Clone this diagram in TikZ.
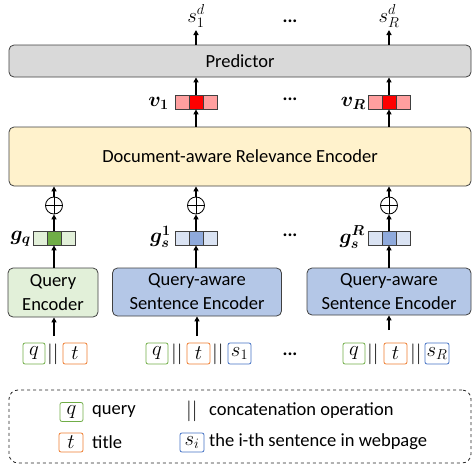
\documentclass[tikz,border=0pt]{standalone}
\usepackage{bm}
\usepackage{fontspec}
\setmainfont{Carlito}
\usetikzlibrary{arrows.meta}
\definecolor{predgray}{HTML}{D9D9D9}
\definecolor{dreyellow}{HTML}{FFF2CC}
\definecolor{qgreen}{HTML}{E2F0D9}
\definecolor{qgreenmid}{HTML}{70AD47}
\definecolor{sblue}{HTML}{B4C7E7}
\definecolor{sbluelight}{HTML}{DAE3F3}
\definecolor{sbluemid}{HTML}{8FAADC}
\definecolor{vpink}{HTML}{FF9F9F}
\definecolor{vred}{HTML}{FF0000}
\definecolor{tokgreen}{HTML}{70AD47}
\definecolor{tokorange}{HTML}{ED7D31}
\definecolor{tokblue}{HTML}{4472C4}
\definecolor{edge}{HTML}{404040}
\begin{document}
\begin{tikzpicture}[x=1pt,y=-1pt,
  font=\fontsize{18.5}{22}\selectfont,
  bigbox/.style={draw=edge, line width=0.8pt, rounded corners=5pt, inner sep=0pt},
  encbox/.style={bigbox, align=center, font=\fontsize{18.5}{24}\selectfont},
  cell/.style={draw=edge, line width=0.8pt, minimum width=14pt, minimum height=14pt, inner sep=0pt},
  arr/.style={line width=1.3pt, -{Triangle[length=5pt,width=5pt]}},
  tok/.style={draw, rounded corners=2pt, line width=0.8pt, minimum width=22pt, minimum height=21pt, inner sep=0pt, font=\fontsize{22}{24}\selectfont},
  ltok/.style={tok, minimum height=19pt},
  bars/.style={inner sep=0pt, font=\fontsize{21}{24}\selectfont},
  dots/.style={inner sep=0pt, font=\bfseries\fontsize{18.5}{22}\selectfont},
  oplusnode/.style={circle, draw=black, line width=0.8pt, minimum size=17pt, inner sep=0pt},
  lbl/.style={inner sep=0pt},
  mlbl/.style={inner sep=0pt, font=\fontsize{22}{26}\selectfont}
]
\useasboundingbox (0,0) rectangle (472,466);

% big boxes
\node[bigbox, fill=predgray, minimum width=462pt, minimum height=32pt] (pred) at (240,61) {Predictor};
\node[bigbox, fill=dreyellow, minimum width=462pt, minimum height=59pt] (dre) at (240,156.5) {Document-aware Relevance Encoder};

% encoders
\node[encbox, fill=qgreen, minimum width=90pt, minimum height=49pt] (qenc) at (53,292.5) {Query\\Encoder};
\node[encbox, fill=sblue, minimum width=169pt, minimum height=48pt] (senc1) at (197,292) {Query-aware\\Sentence Encoder};
\node[encbox, fill=sblue, minimum width=164pt, minimum height=47pt] (sencR) at (389,291.5) {Query-aware\\Sentence Encoder};

% g vectors
\node[cell, fill=qgreen] (gqa) at (40,238) {};
\node[cell, fill=qgreenmid] (gq) at (54,238) {};
\node[cell, fill=qgreen] (gqc) at (68,238) {};
\node[cell, fill=sbluelight] (g1a) at (182,238) {};
\node[cell, fill=sbluemid] (g1) at (196,238) {};
\node[cell, fill=sbluelight] (g1c) at (210,238) {};
\node[cell, fill=sbluelight] (gRa) at (375,238) {};
\node[cell, fill=sbluemid] (gR) at (389,238) {};
\node[cell, fill=sbluelight] (gRc) at (403,238) {};
\node[mlbl, anchor=east] (gql) at (31,239) {$\bm{g_q}$};
\node[mlbl, anchor=east] (g1l) at (171,237) {$\bm{g_s^1}$};
\node[mlbl, anchor=east] (gRl) at (365,237) {$\bm{g_s^R}$};

% v vectors
\node[cell, fill=vpink] (v1a) at (182,102) {};
\node[cell, fill=vred] (v1) at (196,102) {};
\node[cell, fill=vpink] (v1c) at (210,102) {};
\node[cell, fill=vpink] (vRa) at (375,102) {};
\node[cell, fill=vred] (vR) at (389,102) {};
\node[cell, fill=vpink] (vRc) at (403,102) {};
\node[mlbl, anchor=east] (v1l) at (169,103) {$\bm{v_1}$};
\node[mlbl, anchor=east] (vRl) at (366,103) {$\bm{v_R}$};

% oplus
\foreach \n/\x in {o0/54, o1/196, oR/389}{
  \node[oplusnode] (\n) at (\x,205.5) {};
  \draw[line width=0.8pt] (\n.north) -- (\n.south) (\n.west) -- (\n.east);
}

% outputs
\node[mlbl] (s1d) at (196,16) {$s_1^d$};
\node[mlbl] (sRd) at (389,16) {$s_R^d$};
\coordinate (s1top) at (196,30);
\coordinate (sRtop) at (389,30);

% dots
\node[dots] (d1) at (290,21) {...};
\node[dots] (d2) at (290,99) {...};
\node[dots] (d3) at (290,235) {...};
\node[dots] (d4) at (290,354) {...};

% arrows
\coordinate (in0) at (54,336);
\coordinate (in1) at (197,336);
\coordinate (inR) at (389,330);
\draw[arr] (in0) -- (qenc.south -| in0);
\draw[arr] (in1) -- (senc1.south -| in1);
\draw[arr] (inR) -- (sencR.south -| inR);
\draw[arr] (qenc.north -| gq) -- (gq.south);
\draw[arr] (senc1.north -| g1) -- (g1.south);
\draw[arr] (sencR.north -| gR) -- (gR.south);
\draw[arr] (gq.north) -- (o0.south);
\draw[arr] (g1.north) -- (o1.south);
\draw[arr] (gR.north) -- (oR.south);
\draw[arr] (o0.north) -- (dre.south -| o0);
\draw[arr] (o1.north) -- (dre.south -| o1);
\draw[arr] (oR.north) -- (dre.south -| oR);
\draw[arr] (dre.north -| v1) -- (v1.south);
\draw[arr] (dre.north -| vR) -- (vR.south);
\draw[arr] (v1.north) -- (pred.south -| v1);
\draw[arr] (vR.north) -- (pred.south -| vR);
\draw[arr] (pred.north -| s1top) -- (s1top);
\draw[arr] (pred.north -| sRtop) -- (sRtop);

% input tokens
\node[tok, draw=tokgreen] (q0) at (34,353.5) {$q$};
\node[bars] (b0) at (53,354) {$||$};
\node[tok, draw=tokorange, minimum width=24pt] (t0) at (75,353.5) {$t$};

\node[tok, draw=tokgreen] (q1) at (157,353.5) {$q$};
\node[bars] (b1a) at (177,354) {$||$};
\node[tok, draw=tokorange, minimum width=23pt] (t1) at (198.5,353.5) {$t$};
\node[bars] (b1b) at (218,354) {$||$};
\node[tok, draw=tokblue, minimum width=23pt] (s1) at (239.5,353.5) {$s_1$};

\node[tok, draw=tokgreen] (qR) at (354,353.5) {$q$};
\node[bars] (bRa) at (373,354) {$||$};
\node[tok, draw=tokorange, minimum width=23pt] (tR) at (395.5,353.5) {$t$};
\node[bars] (bRb) at (416,354) {$||$};
\node[tok, draw=tokblue, minimum width=24pt] (sR) at (437,353.5) {$s_R$};

% legend
\node[draw=black!85, dashed, line width=0.8pt, rounded corners=9pt, minimum width=462pt, minimum height=73pt, inner sep=0pt] (legend) at (240,426.5) {};
\node[ltok, draw=tokgreen, minimum width=23pt] (lq) at (71.5,412) {$q$};
\node[lbl, anchor=west] (lqt) at (92,411) {query};
\node[ltok, draw=tokorange, minimum width=24pt] (lt) at (71,442.5) {$t$};
\node[lbl, anchor=west] (ltt) at (92,442) {title};
\node[bars] (lb) at (192,411) {$||$};
\node[lbl, anchor=west] (lbt) at (209,411) {concatenation operation};
\node[ltok, draw=tokblue, minimum width=24pt] (ls) at (192,442.5) {$s_i$};
\node[lbl, anchor=west] (lst) at (209,442) {the i-th sentence in webpage};
\end{tikzpicture}
\end{document}
